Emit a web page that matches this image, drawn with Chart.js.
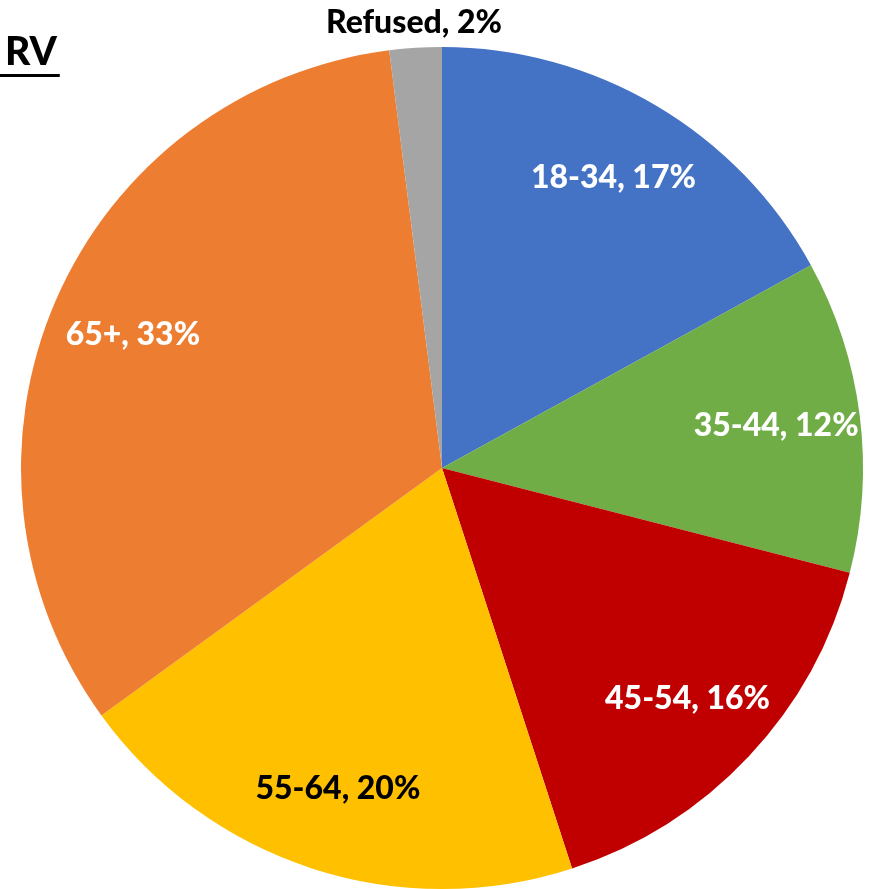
<!DOCTYPE html>
<html>
<head>
<meta charset="utf-8">
<script src="https://cdn.jsdelivr.net/npm/chart.js@4/dist/chart.umd.min.js"></script>
<style>
html,body{margin:0;padding:0;background:#fff;}
#wrap{position:relative;width:874px;height:889px;}
</style>
</head>
<body>
<div id="wrap"><canvas id="c" width="874" height="889"></canvas></div>
<script>
const title = "RV";
const categories = ["18-34", "35-44", "45-54", "55-64", "65+", "Refused"];
const values = [17, 12, 16, 20, 33, 2];
const colors = ["#4472C4", "#70AD47", "#C00000", "#FFC000", "#ED7D31", "#A5A5A5"];
const labelColors = ["#FFFFFF", "#FFFFFF", "#FFFFFF", "#000000", "#FFFFFF", "#000000"];
const outsideLabel = [false, false, false, false, false, true];

const FONT = "900 32px Lato, 'Liberation Sans', sans-serif";

const labelPlugin = {
  id: 'sliceLabels',
  afterDatasetsDraw(chart) {
    const ctx = chart.ctx;
    const meta = chart.getDatasetMeta(0);
    const total = values.reduce((a, b) => a + b, 0);
    ctx.save();
    ctx.font = FONT;
    ctx.textAlign = 'center';
    ctx.textBaseline = 'middle';
    meta.data.forEach((arc, i) => {
      const p = arc.getProps(['x', 'y', 'startAngle', 'endAngle', 'outerRadius'], true);
      const mid = (p.startAngle + p.endAngle) / 2;
      const r = outsideLabel[i] ? p.outerRadius + 25 : p.outerRadius * 0.8;
      const x = p.x + Math.cos(mid) * r;
      const y = p.y + Math.sin(mid) * r;
      const pct = Math.round(values[i] / total * 100);
      ctx.fillStyle = labelColors[i];
      ctx.fillText(categories[i] + ", " + pct + "%", x, y);
    });
    // title
    ctx.font = "900 39px Lato, 'Liberation Sans', sans-serif";
    ctx.textAlign = 'left';
    ctx.textBaseline = 'alphabetic';
    ctx.fillStyle = '#000';
    ctx.fillText(title, 5, 65);
    const w = ctx.measureText(title).width;
    ctx.fillRect(0, 74, w + 8, 3);
    ctx.restore();
  }
};

new Chart(document.getElementById('c'), {
  type: 'pie',
  data: {
    labels: categories,
    datasets: [{
      data: values,
      backgroundColor: colors,
      borderWidth: 0
    }]
  },
  options: {
    responsive: false,
    animation: false,
    layout: { padding: { top: 47, bottom: 0, left: 10, right: 0 } },
    plugins: {
      legend: { display: false },
      tooltip: { enabled: false },
      title: { display: false }
    }
  },
  plugins: [labelPlugin]
});
</script>
</body>
</html>
